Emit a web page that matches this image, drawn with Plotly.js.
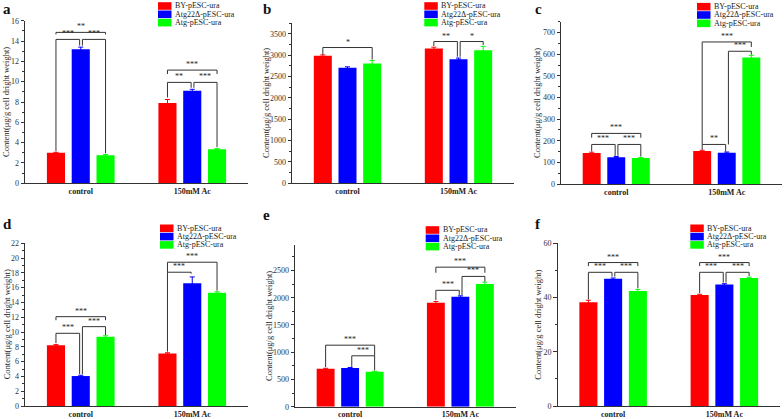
<!DOCTYPE html>
<html><head><meta charset="utf-8">
<script src="https://cdn.plot.ly/plotly-3.0.1.min.js"></script>
<style>html,body{margin:0;padding:0;background:#fff}#chart{width:784px;height:419px}</style>
</head><body><div id="chart"></div>
<script>
// ---------- DATA ----------
const categories = ['control', '150mM Ac'];
const seriesNames = ['BY-pESC-ura', 'Atg22Δ-pESC-ura', 'Atg-pESC-ura'];
const panelLetters = ['a', 'b', 'c', 'd', 'e', 'f'];
const yTitleText = 'Content(μg/g cell dright weight)';

// means per series [control, 150mM Ac]; errors likewise
const aMeans = [[3.0, 7.9], [13.2, 9.1], [2.75, 3.35]];
const aErrors = [[0.05, 0.35], [0.2, 0.15], [0.08, 0.06]];
const bMeans = [[2990, 3160], [2710, 2910], [2810, 3120]];
const bErrors = [[20, 30], [20, 25], [70, 90]];
const cMeans = [[143, 153], [124, 145], [120, 585]];
const cErrors = [[4, 3], [3, 3], [3, 10]];
const dMeans = [[8.2, 7.1], [4.05, 16.6], [9.35, 15.3]];
const dErrors = [[0.1, 0.1], [0.1, 0.85], [0.15, 0.15]];
const eMeans = [[695, 1910], [710, 2020], [640, 2250]];
const eErrors = [[10, 20], [10, 15], [10, 35]];
const fMeans = [[38.3, 40.9], [46.9, 44.8], [42.4, 47.2]];
const fErrors = [[0.7, 0.3], [0.3, 0.3], [0.6, 0.3]];

// significance: [category, barFrom, barTo, level, leftEnd, rightEnd, label]
const aSig = [[0,0,2,14.85,14.65,14.65,'**'],[0,0,1,14.16,3.15,13.55,'***'],[0,1,2,14.16,13.55,2.95,'***'],
              [1,0,2,11.14,10.75,10.75,'***'],[1,0,1,9.93,8.45,9.4,'**'],[1,1,2,9.93,9.4,3.55,'***']];
const bSig = [[0,0,2,3182,3020,2900,'*'],[1,0,1,3323,3220,2967,'**'],[1,1,2,3323,2967,3241,'*']];
const cSig = [[0,0,2,234,214,214,'***'],[0,0,1,183,150,130,'***'],[0,1,2,183,130,127,'***'],
              [1,0,1,183,158,150,'**'],[1,0,2,657,183,634,'***'],[1,1,2,614,183,598,'***']];
const dSig = [[0,0,2,12.08,11.6,11.6,'***'],[0,0,1,9.83,8.5,4.3,'***'],[0,1,2,10.73,4.3,9.6,'***'],
              [1,0,1,18.09,7.35,17.9,'***'],[1,0,2,19.44,18.09,15.6,'***']];
const eSig = [[0,0,2,1129,728,935,'***'],[0,1,2,934,728,667,'***'],
              [1,0,2,2561,2458,2458,'***'],[1,0,1,2136,1954,2051,'***'],[1,1,2,2391,2051,2294,'***']];
const fSig = [[0,0,2,52.9,51.6,51.6,'***'],[0,0,1,49.3,39.3,47.7,'***'],[0,1,2,49.3,47.7,43.4,'***'],
              [1,0,2,52.9,51.6,51.6,'***'],[1,0,1,49.3,41.6,45.5,'***'],[1,1,2,49.3,45.5,47.9,'***']];

const yRanges = [[0,16],[0,3750],[0,750],[0,22],[0,2975],[0,60]];
const yDticks = [2, 500, 100, 2, 500, 20];
const yMinorDticks = [1, 250, 50, 1, 250, 10];

// ---------- STYLE / LAYOUT ----------
const seriesColors = ['#FF0000', '#0000FF', '#00FF00'];
const W = 784, H = 419;
const serif = 'Liberation Serif, Times New Roman, serif';
const inkColor = '#333';
// plot boxes in px: [left, right, top, bottom]
const boxes = [[25,248,20.7,183.3],[292,514,23.3,183.3],[561,782,21.85,184],
               [25,248,243.3,406],[295,515.5,244.6,406.7],[557.5,780,243.3,406]];
const legendPos = [[158,6],[424.3,6],[697,6.7],[160,228.3],[425.7,230],[690.3,228.3]];
const letterPos = [[1,8.5],[261,8.5],[533,9],[1,223.8],[261,215.5],[533,223.8]];
const yTitleX = [6,266.7,537,6.7,268.3,538];

const allMeans = [aMeans,bMeans,cMeans,dMeans,eMeans,fMeans];
const allErrors = [aErrors,bErrors,cErrors,dErrors,eErrors,fErrors];
const allSig = [aSig,bSig,cSig,dSig,eSig,fSig];

const bargap = 0.333, bargroupgap = 0.27;
const slot = (1 - bargap) / 3;

const traces = [], shapes = [], annotations = [];
const layout = {
  width: W, height: H, margin: {l:0,r:0,t:0,b:0},
  paper_bgcolor: '#fff', plot_bgcolor: 'rgba(0,0,0,0)',
  barmode: 'group', bargap: bargap, bargroupgap: bargroupgap,
  showlegend: false,
  font: {family: serif, color: inkColor, size: 8}
};

for (let p = 0; p < 6; p++) {
  const sfx = p === 0 ? '' : String(p + 1);
  const xa = 'x' + sfx, ya = 'y' + sfx;
  const [l, r, t, b] = boxes[p];
  layout['xaxis' + sfx] = {
    domain: [l / W, r / W], anchor: ya, type: 'category', range: [-0.5, 1.5],
    showline: true, linecolor: inkColor, linewidth: 1, ticks: '', ticklen: 0, showgrid: false, zeroline: false,
    tickfont: {family: serif, size: 8, color: '#222', weight: 'bold'}, ticklabelstandoff: 0, fixedrange: true
  };
  layout['yaxis' + sfx] = {
    domain: [1 - b / H, 1 - t / H], anchor: xa, range: yRanges[p], dtick: yDticks[p], tick0: 0,
    showline: true, linecolor: inkColor, linewidth: 1, ticks: 'outside', ticklen: 3.5, tickcolor: inkColor,
    minor: {dtick: yMinorDticks[p], ticks: 'outside', ticklen: 2, tickcolor: inkColor, showgrid: false},
    showgrid: false, zeroline: false, tickfont: {family: serif, size: 8, color: '#333'}, fixedrange: true
  };
  for (let s = 0; s < 3; s++) {
    traces.push({
      type: 'bar', x: categories, y: allMeans[p][s], name: seriesNames[s], xaxis: xa, yaxis: ya,
      marker: {color: seriesColors[s], line: {width: 0}},
      error_y: {type: 'data', array: allErrors[p][s], color: seriesColors[s], thickness: 1, width: 2.5}
    });
  }
  // significance brackets
  allSig[p].forEach(([c, i, j, lvl, yl, yr, lab]) => {
    const nudge = (k, other) => (k === 1 ? (other === 0 ? -0.01 : 0.015) : 0);
    const xl = c + (i - 1) * slot + nudge(i, j);
    const xr = c + (j - 1) * slot + nudge(j, i);
    const base = {type: 'line', xref: xa, yref: ya, line: {color: inkColor, width: 1}};
    shapes.push(Object.assign({x0: xl, x1: xl, y0: yl, y1: lvl}, base));
    shapes.push(Object.assign({x0: xl, x1: xr, y0: lvl, y1: lvl}, base));
    shapes.push(Object.assign({x0: xr, x1: xr, y0: yr, y1: lvl}, base));
    annotations.push({xref: xa, yref: ya, x: (xl + xr) / 2, y: lvl, text: lab, showarrow: false,
      xanchor: 'center', yanchor: 'bottom', yshift: -1, font: {family: serif, size: 8, color: '#222'}});
  });
  // y title
  annotations.push({xref: 'paper', yref: 'paper', x: yTitleX[p] / W, y: 1 - (t + b) / 2 / H,
    text: yTitleText, textangle: -90, showarrow: false, xanchor: 'center', yanchor: 'middle',
    font: {family: serif, size: 8.5, color: '#222'}});
  // panel letter
  annotations.push({xref: 'paper', yref: 'paper', x: letterPos[p][0] / W, y: 1 - letterPos[p][1] / H,
    text: '<b>' + panelLetters[p] + '</b>', showarrow: false, xanchor: 'left', yanchor: 'middle',
    font: {family: serif, size: 15, color: '#111'}});
  // legend
  const [lx, ly] = legendPos[p];
  for (let s = 0; s < 3; s++) {
    const cy = ly + s * 8.3;
    shapes.push({type: 'rect', xref: 'paper', yref: 'paper', x0: lx / W, x1: (lx + 13.5) / W,
      y0: 1 - (cy + 3.8) / H, y1: 1 - (cy - 3.8) / H, fillcolor: seriesColors[s], line: {width: 0}});
    annotations.push({xref: 'paper', yref: 'paper', x: (lx + 15) / W, y: 1 - cy / H, text: seriesNames[s],
      showarrow: false, xanchor: 'left', yanchor: 'middle', font: {family: serif, size: 8, color: '#222'}});
  }
}
layout.shapes = shapes;
layout.annotations = annotations;
Plotly.newPlot('chart', traces, layout, {staticPlot: true, displayModeBar: false});
</script></body></html>
